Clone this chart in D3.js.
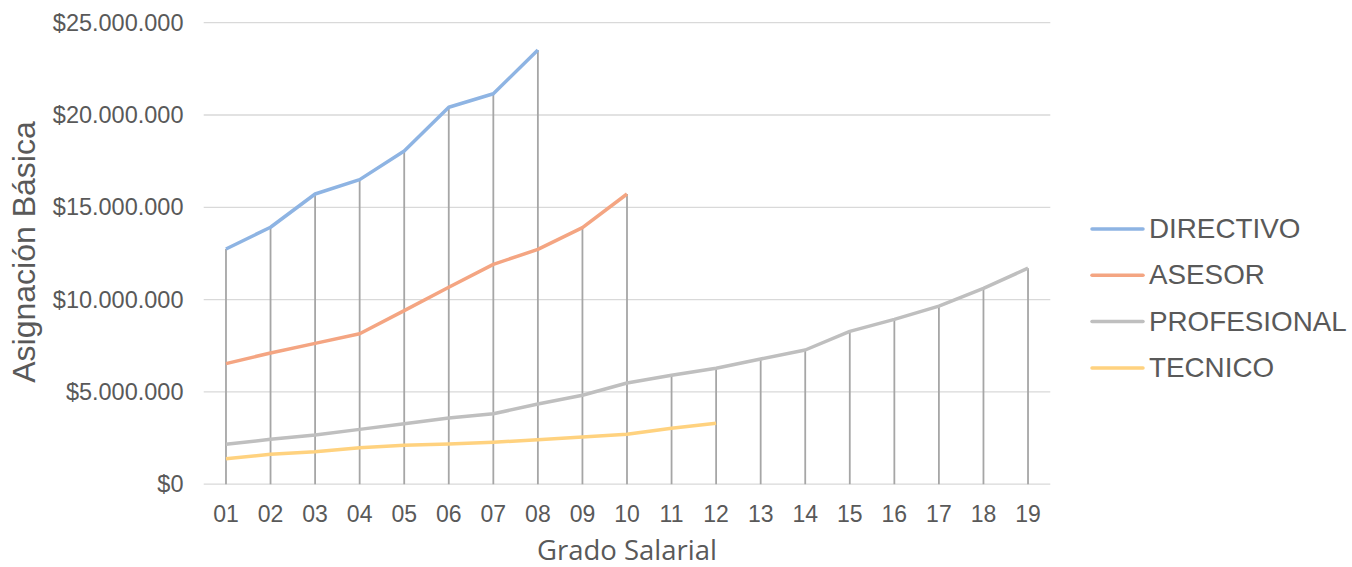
<!DOCTYPE html>
<html><head><meta charset="utf-8">
<script src="https://cdn.jsdelivr.net/npm/d3@7"></script>
<style>body{margin:0;background:#fff}svg{display:block}</style>
</head><body>
<svg id="c" width="1352" height="567"></svg>
<script>
const categories = ["01","02","03","04","05","06","07","08","09","10","11","12","13","14","15","16","17","18","19"];
const directivo = [12740000,13920000,15720000,16500000,18050000,20420000,21150000,23520000];
const asesor = [6530000,7110000,7630000,8150000,9400000,10670000,11910000,12720000,13900000,15720000];
const profesional = [2160000,2430000,2670000,2970000,3280000,3590000,3820000,4340000,4820000,5480000,5900000,6280000,6780000,7270000,8280000,8930000,9650000,10610000,11700000];
const tecnico = [1380000,1620000,1760000,1980000,2110000,2180000,2270000,2410000,2560000,2700000,3030000,3300000];
const seriesNames = ["DIRECTIVO","ASESOR","PROFESIONAL","TECNICO"];
const seriesColors = ["#8eb4e3","#f4a582","#bfbfbf","#ffd27f"];
const yTicks = [0,5000000,10000000,15000000,20000000,25000000];

const seriesData = [directivo, asesor, profesional, tecnico];
const svg = d3.select("#c");
const x = d3.scaleBand().domain(categories).range([203.7,1050.3]);
const y = d3.scaleLinear().domain([0,25000000]).range([484.2,22.7]);
const fmt = v => "$" + d3.format(",")(v).replace(/,/g,".");
const cx = c => x(c) + x.bandwidth()/2;
const FF = "Liberation Sans, Arial, sans-serif";

// gridlines
svg.append("g").selectAll("line").data(yTicks).join("line")
  .attr("x1",203.7).attr("x2",1050.3)
  .attr("y1",d=>y(d)).attr("y2",d=>y(d))
  .attr("stroke","#d9d9d9").attr("stroke-width",1.3);

// y axis labels
const yAxis = d3.axisLeft(y).tickValues(yTicks).tickFormat(fmt).tickSize(0).tickPadding(0);
const ga = svg.append("g").attr("transform","translate(183.5,0)").call(yAxis);
ga.select(".domain").remove();
ga.selectAll("text").style("font-family",FF).style("font-size","23.5px").attr("fill","#595959");

// x axis labels
const xAxis = d3.axisBottom(x).tickSize(0).tickPadding(0);
const gx = svg.append("g").attr("transform","translate(0,506)").call(xAxis);
gx.select(".domain").remove();
gx.selectAll("text").style("font-family",FF).style("font-size","23px").attr("fill","#595959");

// drop lines (from top value to axis)
const maxVals = categories.map((c,i)=>d3.max(seriesData, s => s[i] !== undefined ? s[i] : 0));
svg.append("g").selectAll("line").data(categories).join("line")
  .attr("x1",c=>cx(c)).attr("x2",c=>cx(c))
  .attr("y1",(c,i)=>y(maxVals[i])).attr("y2",y(0))
  .attr("stroke","#a6a6a6").attr("stroke-width",1.8);

// series lines
const line = d3.line().x((d,i)=>cx(categories[i])).y(d=>y(d));
seriesData.forEach((s,k)=>{
  svg.append("path").datum(s).attr("d",line).attr("fill","none")
    .attr("stroke",seriesColors[k]).attr("stroke-width",3.5).attr("stroke-linejoin","round");
});

// axis titles
svg.append("text").attr("x",627).attr("y",559.5).attr("text-anchor","middle")
  .style("font-family","Open Sans, sans-serif").style("font-size","27.5px").attr("fill","#595959").text("Grado Salarial");
svg.append("text").attr("transform","translate(35,252) rotate(-90)").attr("text-anchor","middle")
  .style("font-family",FF).style("font-size","32px").attr("fill","#595959").text("Asignación Básica");

// legend
const lg = svg.append("g").selectAll("g").data(seriesNames).join("g")
  .attr("transform",(d,i)=>`translate(0,${229 + i*46.3})`);
lg.append("line").attr("x1",1092).attr("x2",1143).attr("y1",0).attr("y2",0)
  .attr("stroke",(d,i)=>seriesColors[i]).attr("stroke-width",3.5).attr("stroke-linecap","round");
lg.append("text").attr("x",1149).attr("y",9).style("font-family",FF)
  .style("font-size","27.8px").attr("fill","#595959").text(d=>d);
</script>
</body></html>
